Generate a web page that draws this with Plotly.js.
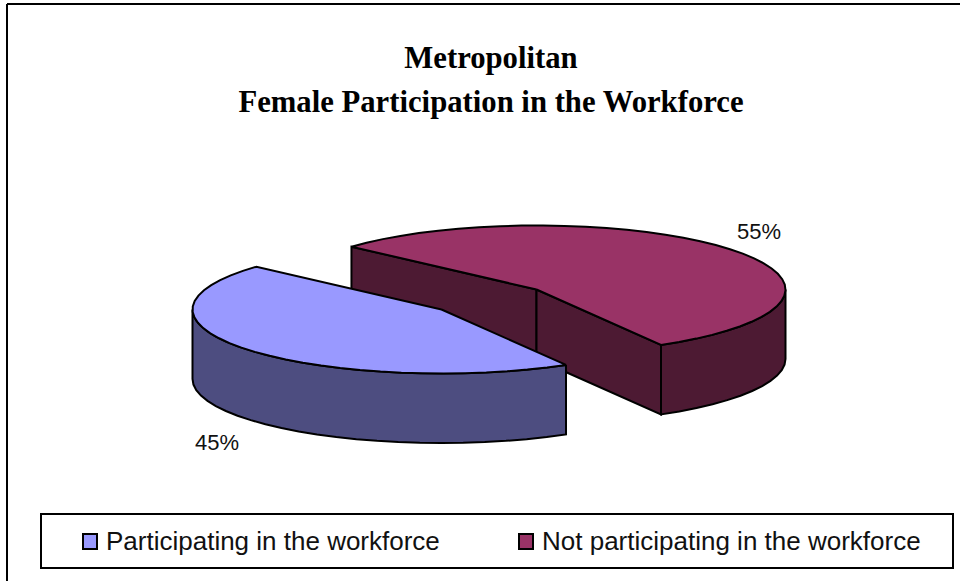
<!DOCTYPE html>
<html>
<head>
<meta charset="utf-8">
<script src="https://cdn.plot.ly/plotly-3.0.0.min.js"></script>
<style>html,body{margin:0;padding:0;background:#fff}#chart{width:960px;height:581px}</style>
</head>
<body>
<div id="chart"></div>
<script>
var titleText = 'Metropolitan<br>Female Participation in the Workforce';
var categories = ['Participating in the workforce', 'Not participating in the workforce'];
var values = [45, 55];
var topColors = ['#9999FF', '#993366'];
var sideColors = ['#4D4D80', '#4D1A33'];

// Layout of the drawing, in the chart's pixel-like axis units
var centres = [[441.5, 309.5], [536.5, 289.5]];
var radiusX = 249, radiusY = 64, depth = 69.5, startAngle = 60;
var total = values[0] + values[1];

function pt(c, deg, drop) {
  var r = deg * Math.PI / 180;
  return [c[0] + radiusX * Math.cos(r), c[1] + radiusY * Math.sin(r) + (drop || 0)];
}
function arc(c, a, b, drop) {
  var out = [], n = Math.max(1, Math.ceil(Math.abs(b - a) / 5));
  for (var i = 0; i <= n; i++) out.push(pt(c, a + (b - a) * i / n, drop));
  return out;
}
function poly(points, fill, name) {
  points = points.concat([points[0]]);
  return {
    type: 'scatter', mode: 'lines', name: name, showlegend: false, hoverinfo: 'skip',
    x: points.map(function (p) { return p[0]; }),
    y: points.map(function (p) { return p[1]; }),
    fill: 'toself', fillcolor: fill,
    line: { color: '#000', width: 2, simplify: false }
  };
}

// slice angle ranges come from the values
var a0 = startAngle;
var a1 = a0 + 360 * values[0] / total;
var a2 = a1 + 360 * values[1] / total;

var c0 = centres[0], c1 = centres[1];
var traces = [];
// Not participating: cut faces, outer front wall, top
traces.push(poly([c1, pt(c1, a1), pt(c1, a1, depth), [c1[0], c1[1] + depth]], sideColors[1], categories[1]));
traces.push(poly([c1, pt(c1, a2), pt(c1, a2, depth), [c1[0], c1[1] + depth]], sideColors[1], categories[1]));
traces.push(poly(arc(c1, 360, a2).concat(arc(c1, a2, 360, depth)), sideColors[1], categories[1]));
traces.push(poly([c1].concat(arc(c1, a1, a2)), topColors[1], categories[1]));
// Participating: outer front wall, top
traces.push(poly(arc(c0, a0, 180).concat(arc(c0, 180, a0, depth)), sideColors[0], categories[0]));
traces.push(poly([c0].concat(arc(c0, a0, a1)), topColors[0], categories[0]));

var blk = { color: '#000', width: 2 };
var shapes = [
  { type: 'line', xref: 'x', yref: 'y', x0: 7, x1: 7, y0: 581, y1: 4, line: blk },
  { type: 'line', xref: 'x', yref: 'y', x0: 7, x1: 960, y0: 4, y1: 4, line: blk },
  { type: 'rect', xref: 'x', yref: 'y', x0: 41, x1: 953, y0: 514, y1: 568, line: blk, fillcolor: '#fff' },
  { type: 'rect', xref: 'x', yref: 'y', x0: 83, x1: 97, y0: 534, y1: 549, line: blk, fillcolor: topColors[0] },
  { type: 'rect', xref: 'x', yref: 'y', x0: 519, x1: 533, y0: 534, y1: 549, line: blk, fillcolor: topColors[1] }
];
var sansFont = { family: 'Liberation Sans, Arial, sans-serif', color: '#111' };
function note(text, x, y, size, anchor) {
  return { text: text, xref: 'x', yref: 'y', x: x, y: y, showarrow: false, xanchor: anchor,
           yanchor: 'middle', font: { family: sansFont.family, color: sansFont.color, size: size } };
}
var annotations = [
  note(values[0] + '%', 217, 442, 22, 'center'),
  note(values[1] + '%', 759, 231, 22, 'center'),
  note(categories[0], 104, 541, 26, 'left'),
  note(categories[1], 540, 541, 26, 'left')
];

var layout = {
  width: 960, height: 581,
  margin: { l: 0, r: 0, t: 0, b: 0 },
  paper_bgcolor: '#fff', plot_bgcolor: '#fff', showlegend: false,
  title: {
    text: titleText, x: 491 / 960, xref: 'paper', xanchor: 'center',
    y: 1 - 68 / 581, yref: 'paper', yanchor: 'middle',
    font: { family: 'Liberation Serif, Times New Roman, serif', size: 30.7, color: '#000', weight: 700 }
  },
  xaxis: { range: [0, 960], visible: false, fixedrange: true },
  yaxis: { range: [581, 0], visible: false, fixedrange: true },
  shapes: shapes, annotations: annotations
};
Plotly.newPlot('chart', traces, layout, { displayModeBar: false, staticPlot: true }).then(function () {
  // the reference's title lines sit further apart than Plotly's fixed line spacing
  var t = document.querySelector('.gtitle');
  if (!t) return;
  var lines = t.querySelectorAll('tspan.line');
  if (lines.length > 1) lines[1].setAttribute('dy', '43.5');
});
</script>
</body>
</html>
